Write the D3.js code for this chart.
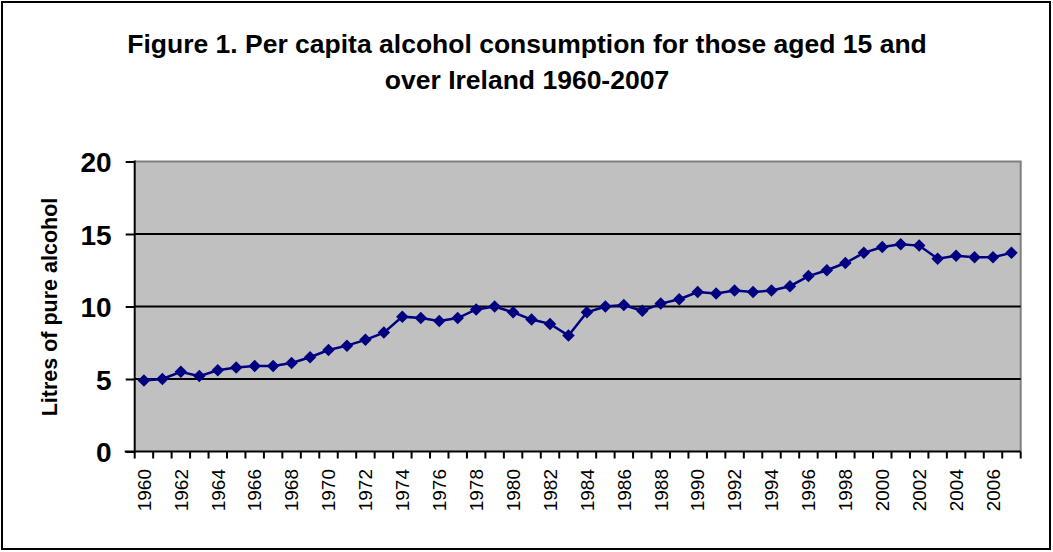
<!DOCTYPE html>
<html>
<head>
<meta charset="utf-8">
<script src="https://cdn.jsdelivr.net/npm/d3@7"></script>
<style>
  body { margin: 0; background: #fff; }
  svg { display: block; font-family: "Liberation Sans", Arial, sans-serif; }
</style>
</head>
<body>
<div id="chart"></div>
<script>
// litres of pure alcohol per capita (15+), Ireland
const years = d3.range(1960, 2008);
const litres = [4.9, 5.0, 5.5, 5.2, 5.6, 5.8, 5.9, 5.9, 6.1, 6.5,
                7.0, 7.3, 7.7, 8.2, 9.3, 9.2, 9.0, 9.2, 9.8, 10.0,
                9.6, 9.1, 8.8, 8.0, 9.6, 10.0, 10.1, 9.7, 10.2, 10.5,
                11.0, 10.9, 11.1, 11.0, 11.1, 11.4, 12.1, 12.5, 13.0, 13.7,
                14.1, 14.3, 14.2, 13.3, 13.5, 13.4, 13.4, 13.7];
const yTicks = [0, 5, 10, 15, 20];
const titleLines = ['Figure 1. Per capita alcohol consumption for those aged 15 and',
                    'over Ireland 1960-2007'];

const W = 1053, H = 552;
const plot = {left: 134.7, right: 1020.7, top: 161.5, bottom: 451.5};

const svg = d3.select('#chart').append('svg').attr('width', W).attr('height', H);

// outer frame
svg.append('rect').attr('x', 2).attr('y', 2).attr('width', W - 5).attr('height', H - 5)
    .attr('fill', '#fff').attr('stroke', '#000').attr('stroke-width', 2);

// title
svg.append('g').selectAll('text').data(titleLines).enter().append('text')
    .attr('x', 527).attr('y', (d, i) => 53 + i * 36)
    .attr('text-anchor', 'middle').attr('font-size', 26.5).attr('font-weight', 'bold')
    .text(d => d);

let x = d3.scaleBand().domain(years).range([plot.left, plot.right]).padding(0);
let y = d3.scaleLinear().domain([0, 20]).range([plot.bottom, plot.top]);

// plot background
svg.append('rect').attr('x', plot.left).attr('y', plot.top)
    .attr('width', plot.right - plot.left).attr('height', plot.bottom - plot.top)
    .attr('fill', '#c0c0c0');
svg.append('path')
    .attr('d', `M${plot.left},${plot.top}H${plot.right}V${plot.bottom}`)
    .attr('fill', 'none').attr('stroke', '#808080').attr('stroke-width', 2);

// gridlines
svg.append('g').selectAll('line').data(yTicks.filter(v => v > 0 && v < 20)).enter().append('line')
    .attr('x1', plot.left).attr('x2', plot.right)
    .attr('y1', d => y(d)).attr('y2', d => y(d))
    .attr('stroke', '#000').attr('stroke-width', 2);

// y axis
let yAxis = d3.axisLeft(y).tickValues(yTicks).tickSize(9).tickPadding(14).tickFormat(d3.format('d'));
let gy = svg.append('g').attr('transform', `translate(${plot.left},0)`).call(yAxis);
gy.select('.domain').attr('stroke-width', 2).attr('d', `M0,${plot.top - 1}V${plot.bottom + 1}`);
gy.selectAll('.tick line').attr('stroke-width', 2);
gy.selectAll('.tick text').attr('font-size', 28).attr('font-weight', 'bold')
    .attr('font-family', '"Liberation Sans", Arial, sans-serif').attr('fill', '#000').attr('dy', '0.36em');

// x axis: ticks at category boundaries
let gx = svg.append('g');
gx.append('line').attr('x1', plot.left - 10).attr('x2', plot.right)
    .attr('y1', plot.bottom).attr('y2', plot.bottom).attr('stroke', '#000').attr('stroke-width', 2);
gx.selectAll('.xt').data(years.concat([years[years.length - 1] + 1])).enter().append('line')
    .attr('class', 'xt')
    .attr('x1', (d, i) => plot.left + i * x.bandwidth()).attr('x2', (d, i) => plot.left + i * x.bandwidth())
    .attr('y1', plot.bottom).attr('y2', plot.bottom + 7)
    .attr('stroke', '#000').attr('stroke-width', 2);
gx.selectAll('text').data(years.filter(d => d % 2 === 0)).enter().append('text')
    .attr('transform', d => `translate(${x(d) + x.bandwidth() / 2 + 6.8},${plot.bottom + 17.5}) rotate(-90)`)
    .attr('text-anchor', 'end').attr('font-size', 19)
    .text(d => d);

// y title
svg.append('text')
    .attr('transform', `translate(57,307) rotate(-90)`)
    .attr('text-anchor', 'middle').attr('font-size', 21.5).attr('font-weight', 'bold')
    .text('Litres of pure alcohol');

// series
let pts = years.map((yr, i) => ({year: yr, v: litres[i]}));
let line = d3.line().x(d => x(d.year) + x.bandwidth() / 2).y(d => y(d.v));
svg.append('path').datum(pts).attr('d', line)
    .attr('fill', 'none').attr('stroke', '#000080').attr('stroke-width', 2.5);
let diamond = d3.symbol().type(d3.symbolDiamond2).size(100);
svg.append('g').selectAll('path').data(pts).enter().append('path')
    .attr('d', diamond)
    .attr('transform', d => `translate(${x(d.year) + x.bandwidth() / 2},${y(d.v)})`)
    .attr('fill', '#000080');
</script>
</body>
</html>
